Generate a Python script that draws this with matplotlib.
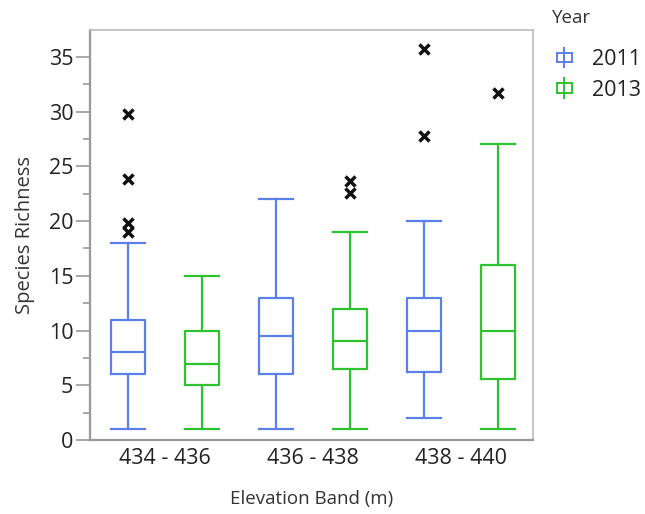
import matplotlib
matplotlib.use('Agg')
import matplotlib.pyplot as plt
from matplotlib.legend_handler import HandlerBase
from matplotlib.patches import Rectangle
from matplotlib.lines import Line2D

plt.rcParams['font.family'] = ['Open Sans', 'DejaVu Sans']

bands = ['434 - 436', '436 - 438', '438 - 440']
years = ['2011', '2013']
colors = {'2011': '#5B80E8', '2013': '#2EC22E'}

# five-number summaries per band: whisker low, Q1, median, Q3, whisker high
stats_2011 = [
    (1, 6, 8, 11, 18),
    (1, 6, 9.5, 13, 22),
    (2, 6.2, 10, 13, 20),
]
stats_2013 = [
    (1, 5, 6.9, 10, 15),
    (1, 6.45, 9.05, 11.95, 19),
    (1, 5.55, 10, 16, 27),
]
outliers_2011 = [[29.8, 23.8, 19.8, 19.0], [], [35.7, 27.8]]
outliers_2013 = [[], [23.7, 22.6], [31.7]]


def make_bxp(stats, outliers):
    out = []
    for (lo, q1, med, q3, hi), fl in zip(stats, outliers):
        out.append(dict(whislo=lo, q1=q1, med=med, q3=q3, whishi=hi, fliers=fl))
    return out


fig = plt.figure(figsize=(6.45, 5.14), dpi=100)
ax = fig.add_axes([0.1395, 0.144, 0.687, 0.7986])

offset = 0.25
width = 0.23
for yr, stats, outl, sign in [('2011', stats_2011, outliers_2011, -1),
                              ('2013', stats_2013, outliers_2013, 1)]:
    c = colors[yr]
    pos = [i + sign * offset for i in range(len(bands))]
    ax.bxp(make_bxp(stats, outl), positions=pos, widths=width,
           showfliers=True,
           boxprops=dict(color=c, linewidth=1.6),
           medianprops=dict(color=c, linewidth=1.6),
           whiskerprops=dict(color=c, linewidth=1.6),
           capprops=dict(color=c, linewidth=1.6),
           capwidths=width,
           flierprops=dict(marker='x', markeredgecolor='#111111',
                           markersize=6.5, markeredgewidth=2.5))

ax.set_xlim(-0.51, 2.49)
ax.set_ylim(0, 37.5)
ax.set_xticks(range(len(bands)))
ax.set_xticklabels(bands)
ax.set_yticks(range(0, 36, 5))
ax.set_yticks([2.5 + 5 * i for i in range(7)], minor=True)
ax.tick_params(axis='x', length=0, labelsize=15.5, colors='#222222', pad=6)
ax.tick_params(axis='y', which='major', length=10, width=1.2, color='#999999',
               labelsize=15.5, labelcolor='#222222', pad=2)
ax.tick_params(axis='y', which='minor', length=5, width=1.2, color='#999999')

for side in ['left', 'bottom']:
    ax.spines[side].set_color('#999999')
    ax.spines[side].set_linewidth(1.6)
for side in ['top', 'right']:
    ax.spines[side].set_color('#bbbbbb')
    ax.spines[side].set_linewidth(1.2)

ax.set_xlabel('Elevation Band (m)', fontsize=13.5, color='#333333', labelpad=15)
ax.set_ylabel('Species Richness', fontsize=14.5, color='#333333', labelpad=10)


class BoxIcon(HandlerBase):
    def create_artists(self, legend, orig_handle, xdescent, ydescent,
                       width, height, fontsize, trans):
        c = orig_handle.get_color()
        cx = width / 2 - xdescent
        cy = height / 2 - ydescent
        rect = Rectangle((cx - 5.5, cy - 3.5), 11, 7, fill=False,
                         edgecolor=c, linewidth=1.4, transform=trans)
        ln = Line2D([cx, cx], [cy - 7, cy + 7], color=c, linewidth=1.4,
                    transform=trans)
        return [ln, rect]


fig.text(0.855, 0.965, 'Year', fontsize=13.5, color='#333333',
         ha='left', va='center')
handles = [Line2D([], [], color=colors[y]) for y in years]
leg = fig.legend(handles, years, handler_map={Line2D: BoxIcon()},
                 loc='upper left', bbox_to_anchor=(0.838, 0.93),
                 frameon=False, fontsize=15.5, borderpad=0.1,
                 handlelength=1.0, handletextpad=0.8, labelspacing=0.45)
for t in leg.get_texts():
    t.set_color('#222222')

fig.savefig('out.png', dpi=100)
